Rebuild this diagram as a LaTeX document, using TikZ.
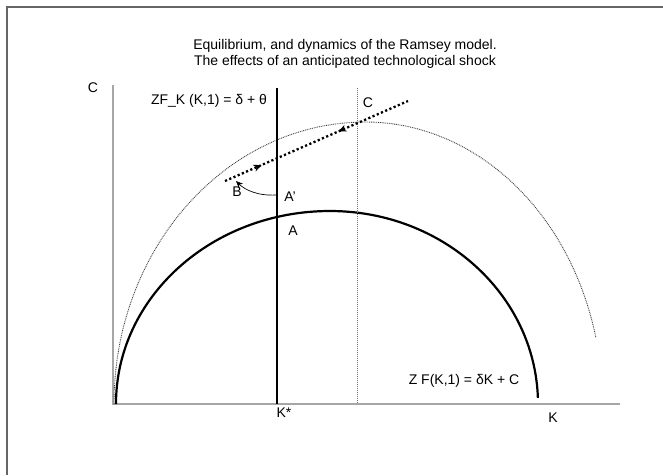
\documentclass[tikz,border=0pt]{standalone}
\usepackage{fontspec}
\setmainfont{Liberation Sans}
\usepackage{tikz}
\usetikzlibrary{positioning}
\usetikzlibrary{calc,arrows.meta,decorations.markings}

\begin{document}
\begin{tikzpicture}[x=1pt,y=-1pt,font=\fontsize{14}{16}\selectfont,
  frame/.style={draw=black!60,line width=1.5},
  axis/.style={draw=black!35,line width=2},
  locus/.style={draw=black,line width=2.2},
  thinarc/.style={draw=black!75,line width=0.9,dash pattern=on 0.9 off 0.9},
  guide/.style={draw=black!55,line width=0.9,dash pattern=on 1 off 1},
  path/.style={draw=black,line width=2.3,dash pattern=on 2.2 off 2.4}]
\useasboundingbox (0,0) rectangle (663,475);
% frame and axes
\coordinate (fbl) at (7,475);
\coordinate (ftl) at (7,7);
\coordinate (ftr) at (663,7);
\draw[frame] (fbl) -- (ftl) -- (ftr);
\coordinate (O) at (113,404);
\coordinate (ytop) at (113,85);
\coordinate (xend) at (620,404);
\draw[axis] (ytop) -- (O) -- (xend);
\node at (345,54) [align=center] (title) {Equilibrium, and dynamics of the Ramsey model.\\The effects of an anticipated technological shock};
\node at (93,88) (Clab) {C};
\node at (553,418) (Klab) {K};
\node at (284,413) (Kstar) {K*};
% curves
\draw[thinarc] (114,404) arc[start angle=180,end angle=270,x radius=251.5,y radius=282]
  arc[start angle=270,end angle=346.3,x radius=237,y radius=282];
\draw[locus] (116,404) arc[start angle=180,end angle=270,x radius=214,y radius=193]
  arc[start angle=270,end angle=358.2,x radius=208,y radius=193];
\coordinate (gtop) at (357,88);
\coordinate (gbot) at (357,404);
\draw[guide] (gtop) -- (gbot);
\coordinate (ktop) at (277,88);
\coordinate (kbot) at (277,404);
\draw[locus] (ktop) -- (kbot);
% saddle path
\coordinate (Bpt) at (225,181);
\coordinate (Cpt) at (408,101);
\draw[path,postaction={decorate,decoration={markings,
   mark=at position 0.2 with {\arrow[solid,line width=1]{Stealth[length=8,width=7]}},
   mark=at position 0.62 with {\arrowreversed[solid,line width=1]{Stealth[length=8,width=7]}}}}] (Bpt) -- (Cpt);
\coordinate (Aprime) at (276,195);
\coordinate (Bend) at (236,181);
\draw[-{Stealth[length=7,width=6]},line width=0.7] (Aprime) .. controls (258,196) and (245,190) .. (Bend);
% labels
\node at (209,101) (FK) {ZF\_K (K,1) = δ + θ};
\node at (368,103) (C) {C};
\node at (237,192) (B) {B};
\node at (290,197) (Ap) {A'};
\node at (293,231) (A) {A};
\node at (464,381) (ZF) {Z F(K,1) = δK + C};
\end{tikzpicture}
\end{document}
